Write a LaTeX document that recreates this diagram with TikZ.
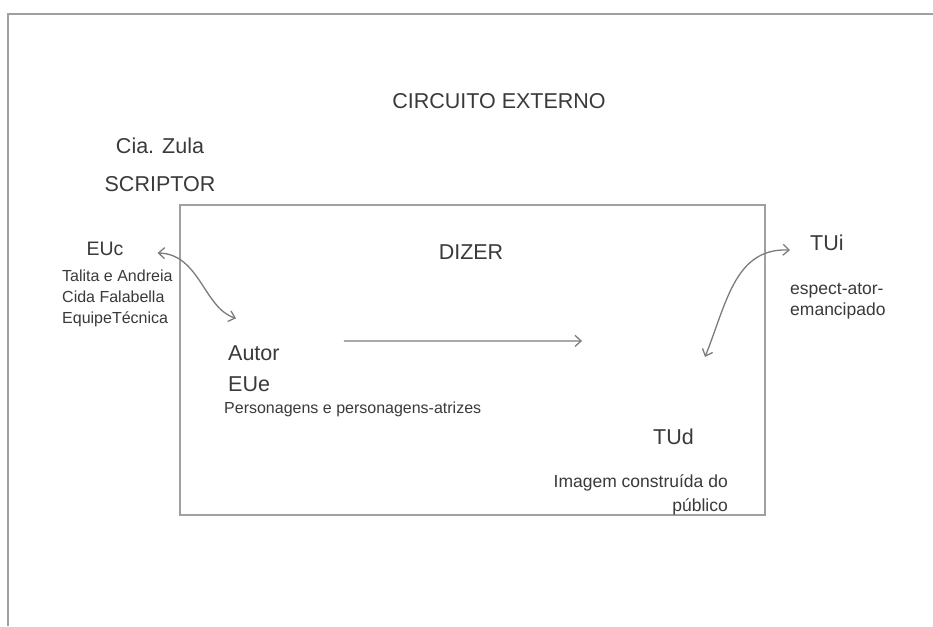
\documentclass[tikz,border=0pt]{standalone}
\usepackage{fontspec}
\setmainfont{Liberation Sans}
\usepackage{tikz}
\usetikzlibrary{arrows.meta,positioning}
\definecolor{Ink}{HTML}{3A3A3A}
\definecolor{Frame}{HTML}{A0A0A0}
\definecolor{Wire}{HTML}{7C7C7C}

\begin{document}
\begin{tikzpicture}[
  x=1pt, y=-1pt,
  heading/.style={
    text=Ink,
    inner sep=0pt,
    font=\fontsize{21.5}{26}\selectfont
  },
  tag/.style={
    heading,
    font=\fontsize{19.5}{24}\selectfont
  },
  note/.style={
    heading,
    align=left,
    font=\fontsize{16}{21}\selectfont
  },
  frame/.style={draw=Frame,line width=1.6pt},
  link/.style={{Straight Barb[length=6pt,width=11pt]}-{Straight Barb[length=6pt,width=11pt]},line width=1.3pt,draw=Wire},
  flow/.style={-{Straight Barb[length=6pt,width=11pt]},line width=1.3pt,draw=Wire}
]
  \useasboundingbox (0,0) rectangle (933,626);
  \fill[white] (0,0) rectangle (933,626);

  % circuito externo e caixa interna
  \draw[frame] (8,626) -- (8,14) -- (933,14);
  \draw[frame] (180,205) rectangle (765,515);

  \node[heading] (externo) at (499,101) {CIRCUITO EXTERNO};
  \node[heading] (cia) at (160,146) {Cia. Zula};
  \node[heading, below=22pt of cia] (scriptor) {SCRIPTOR};
  \node[heading] (dizer) at (471,252) {DIZER};

  \node[tag] (euc) at (105,249) {EUc};
  \node[note, anchor=north west] (equipe) at (62,270) {Talita e Andreia\\Cida Falabella\\EquipeTécnica};

  \node[heading, anchor=west] (autor) at (228,353) {Autor};
  \node[heading, anchor=west] (eue) at (228,384) {EUe};
  \node[note, anchor=west] (personagens) at (224,409) {Personagens e personagens-atrizes};

  \node[heading, anchor=west] (tud) at (653,437) {TUd};
  \node[heading, anchor=west] (tui) at (810,243) {TUi};
  \node[note, anchor=north west, font=\fontsize{17.5}{21}\selectfont] (espect) at (790,283) {espect-ator-\\emancipado};
  \node[note, anchor=north east, align=right, font=\fontsize{17.5}{24}\selectfont] (imagem) at (728,474) {Imagem construída do\\público};

  \draw[link] ([shift={(34pt,-4pt)}]euc.east) .. controls +(42,1) and +(-32,-10) .. ([shift={(8pt,27pt)}]autor.north west);
  \draw[flow] ([shift={(64pt,12pt)}]autor.east) -- ([shift={(-71pt,88pt)}]tud.north west);
  \draw[link] ([shift={(-20pt,-7pt)}]tui.west) .. controls +(-55,-2) and +(22,-55) .. ([shift={(52pt,72pt)}]tud.north west);
\end{tikzpicture}
\end{document}
